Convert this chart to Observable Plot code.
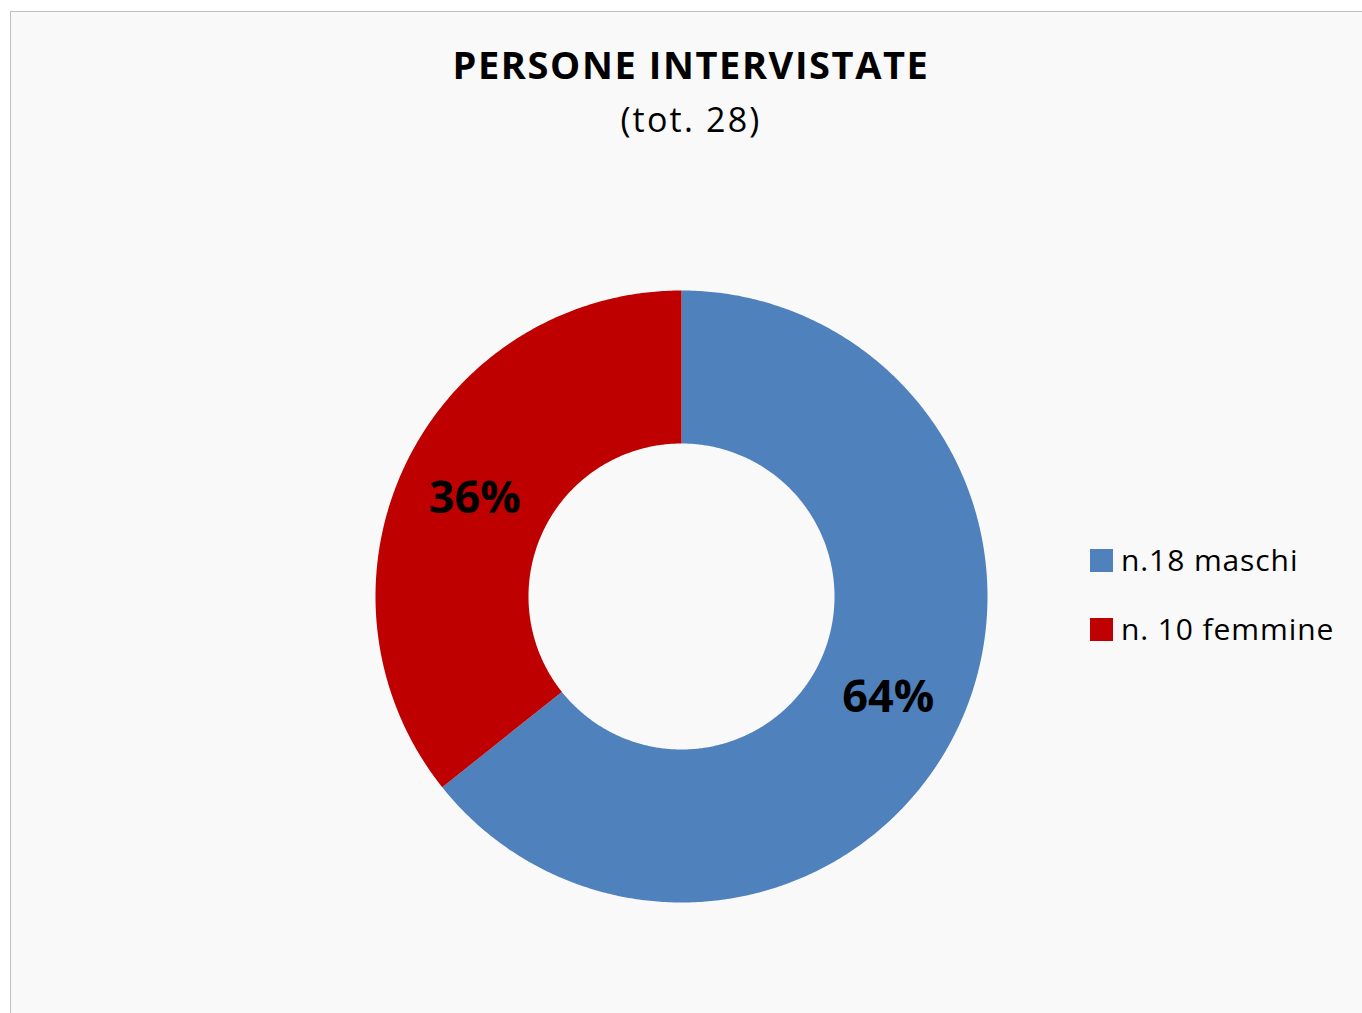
<!DOCTYPE html>
<html>
<head>
<meta charset="utf-8">
<script src="https://cdn.jsdelivr.net/npm/d3@7"></script>
<script src="https://cdn.jsdelivr.net/npm/@observablehq/plot@0.6"></script>
<style>
  html, body { margin:0; padding:0; background:#ffffff; overflow:hidden; width:1362px; height:1013px; }
  #frame { position:absolute; left:10px; top:11px; width:1362px; height:1013px; background:#f9f9f9;
           border-left:1px solid #bfbfbf; border-top:1px solid #bfbfbf; }
  #title { position:absolute; left:10px; width:1362px; top:45px; text-align:center;
           font-family:"Open Sans", sans-serif; font-weight:700; font-size:38px; letter-spacing:1.6px; color:#000; line-height:1; }
  #subtitle { position:absolute; left:10px; width:1362px; top:102px; text-align:center;
           font-family:"Open Sans", sans-serif; font-weight:400; font-size:34px; letter-spacing:2.2px; color:#000; line-height:1; }
  #chart { position:absolute; left:0; top:0; }
  #legend { position:absolute; left:1090px; top:539px; }
  .lg-swatches { font-family:"Open Sans", sans-serif !important; font-size:30px !important; color:#000 !important; }
  .lg-swatch { padding-bottom:27px !important; line-height:1.4 !important; letter-spacing:0.9px; }
  .lg-swatch svg { margin-right:8px !important; }
</style>
</head>
<body>
<div id="frame"></div>
<div id="title">PERSONE INTERVISTATE</div>
<div id="subtitle">(tot. 28)</div>
<div id="chart"></div>
<div id="legend"></div>
<script>
const categories = ["n.18 maschi", "n. 10 femmine"];
const counts = [18, 10];
const colors = ["#4f81bd", "#be0000"];
const innerRatio = 0.5;

const total = d3.sum(counts);
const pie = d3.pie().sort(null).value(d => d.count)(categories.map((c, i) => ({category: c, count: counts[i]})));

// polygon points for each ring segment, derived from pie angles
const polys = [];
const labels = [];
for (const s of pie) {
  const steps = Math.max(2, Math.ceil((s.endAngle - s.startAngle) / (Math.PI / 360)));
  const pts = [];
  for (let k = 0; k <= steps; k++) {
    const a = s.startAngle + (s.endAngle - s.startAngle) * k / steps;
    pts.push({category: s.data.category, x: Math.sin(a), y: Math.cos(a)});
  }
  for (let k = steps; k >= 0; k--) {
    const a = s.startAngle + (s.endAngle - s.startAngle) * k / steps;
    pts.push({category: s.data.category, x: innerRatio * Math.sin(a), y: innerRatio * Math.cos(a)});
  }
  polys.push(...pts);
  const mid = (s.startAngle + s.endAngle) / 2;
  const r = (1 + innerRatio) / 2;
  labels.push({category: s.data.category, x: r * Math.sin(mid), y: r * Math.cos(mid),
               text: Math.round(s.data.count / total * 100) + "%"});
}

const plot = Plot.plot({
  width: 1362,
  height: 1013,
  marginLeft: 375,
  marginRight: 375,
  marginTop: 290,
  marginBottom: 111,
  x: {domain: [-1, 1], axis: null},
  y: {domain: [-1, 1], axis: null},
  color: {domain: categories, range: colors},
  style: {background: "transparent", fontFamily: "Open Sans, sans-serif", overflow: "visible"},
  marks: [
    Plot.line(polys, {x: "x", y: "y", z: "category", fill: "category", stroke: null, curve: "linear-closed"}),
    Plot.text(labels, {x: "x", y: "y", text: "text", fill: "#000", fontSize: 45, fontWeight: 700, dy: 2})
  ]
});
document.getElementById("chart").appendChild(plot);

const lg = plot.legend("color", {swatchSize: 23, columns: 1, className: "lg"});
document.getElementById("legend").appendChild(lg);
</script>
</body>
</html>
